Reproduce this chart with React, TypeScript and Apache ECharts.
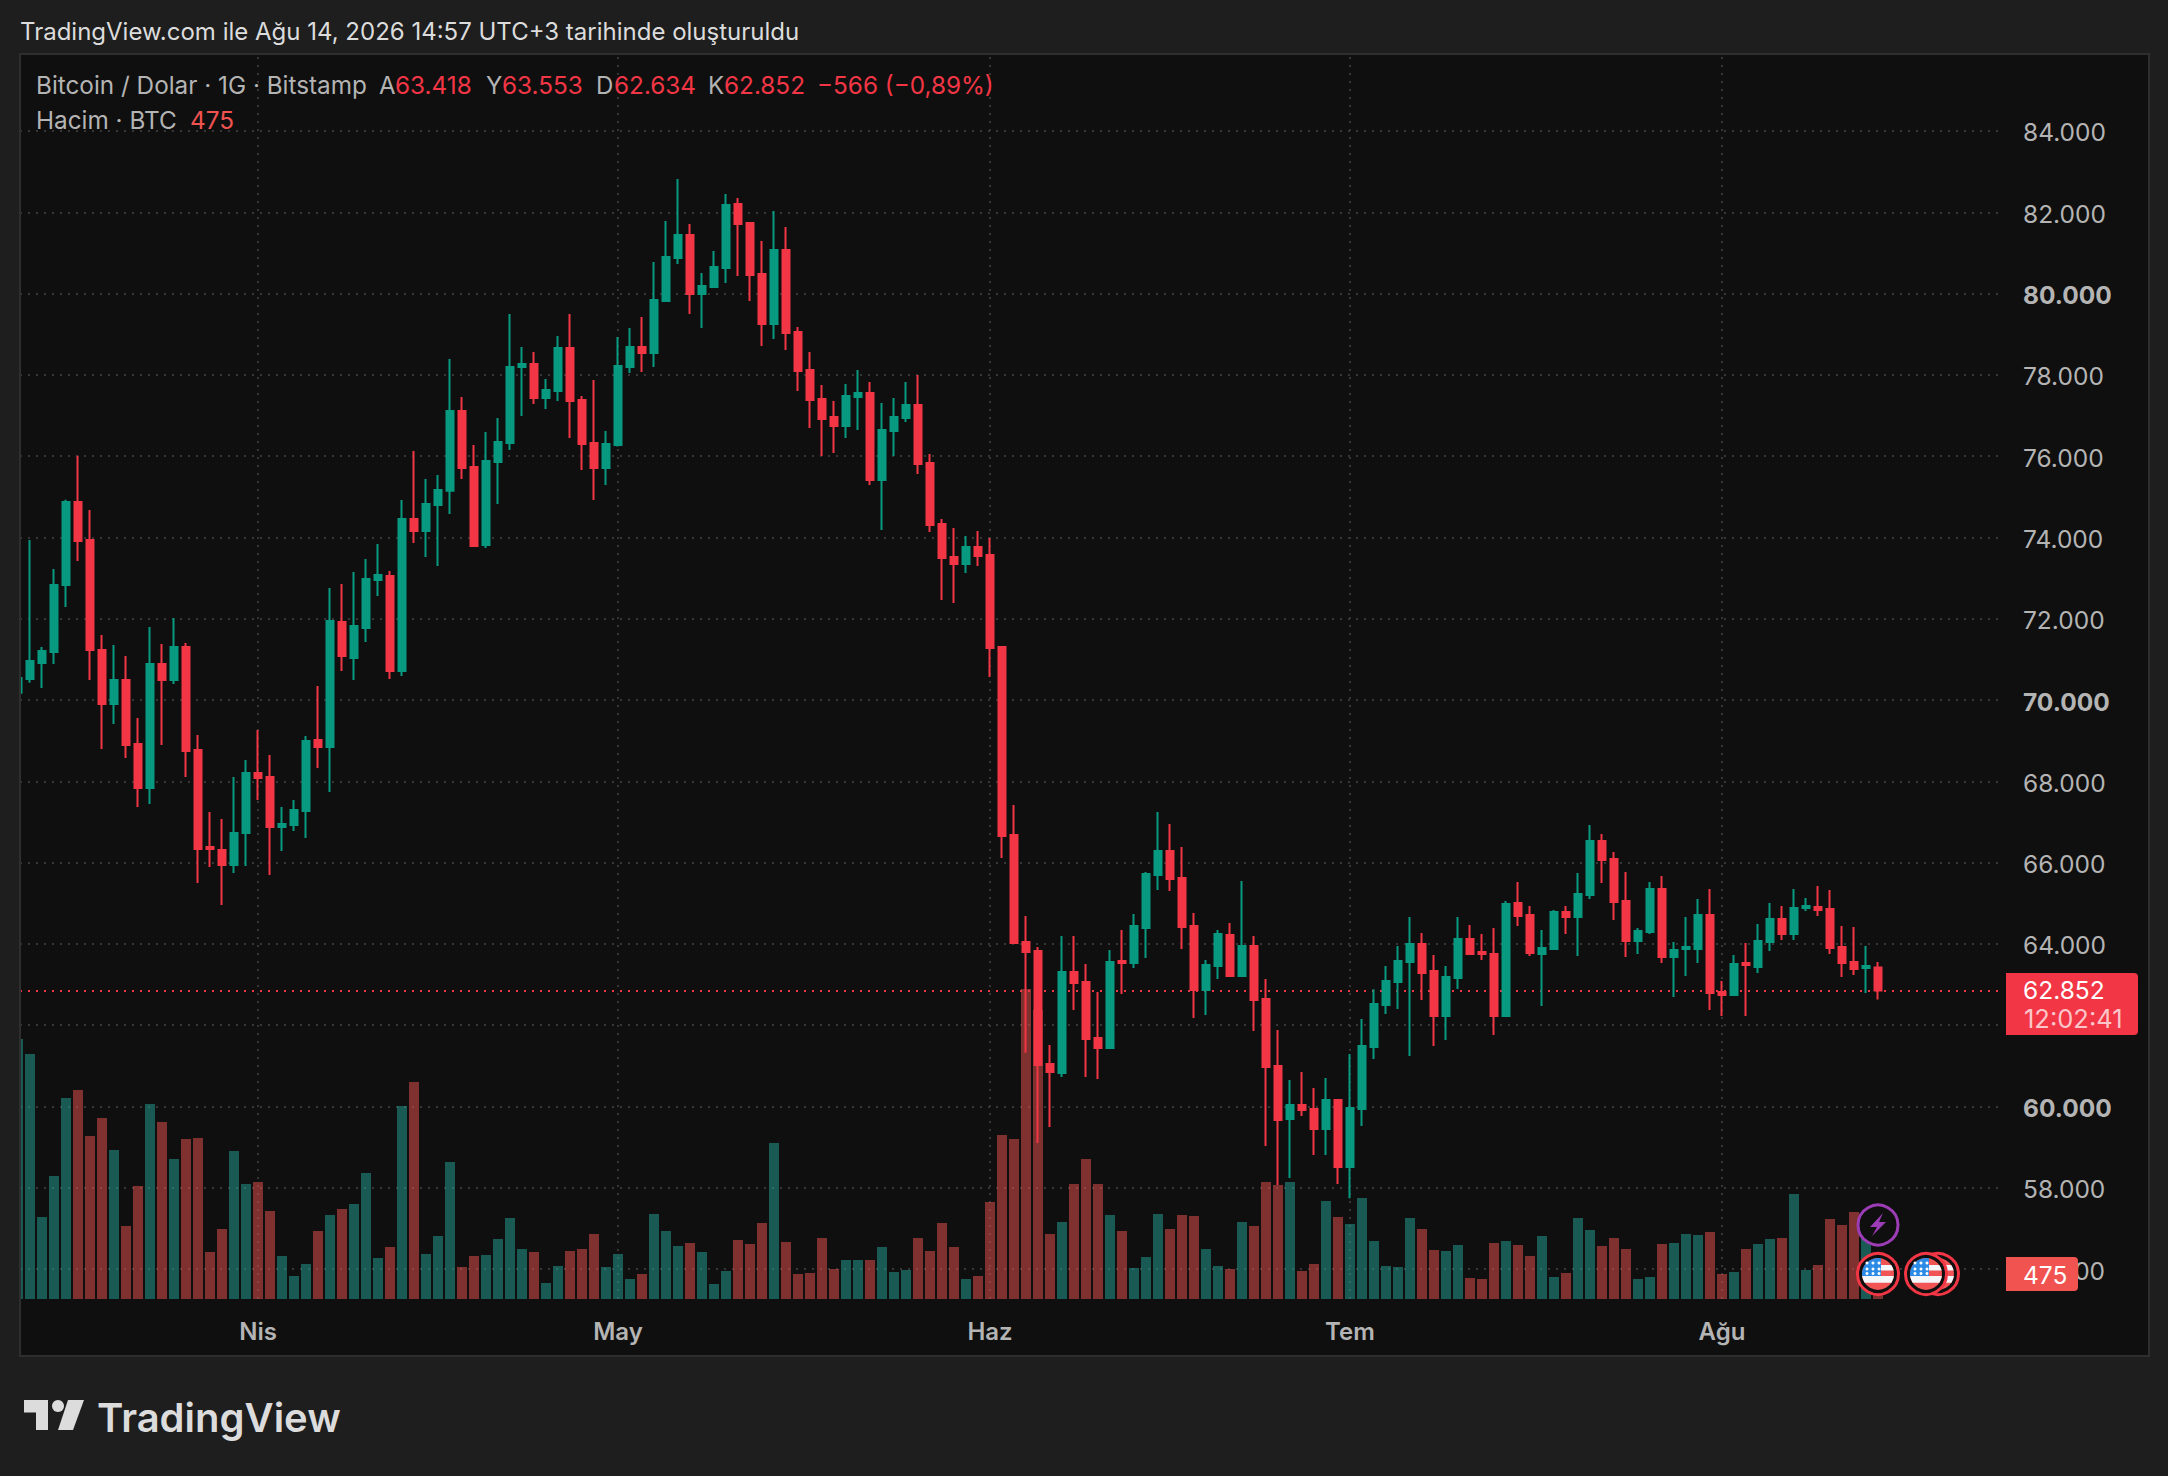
import React, { useEffect, useRef } from "react";
import * as echarts from "echarts";

const opens = [70180,70517,70910,71181,72830,74872,73937,71230,69902,70492,
68917,67835,70886,70492,71304,68770,66383,66309,65940,66727,
68204,68105,66875,66924,67269,69016,68843,71919,71033,71772,
72953,73051,70714,74453,74158,74798,75150,77110,75732,73814,
75855,76323,78193,78267,77430,77602,78660,77381,76323,75708,
76273,78193,78685,78537,79817,80875,81441,79989,80161,80629,
82203,81736,80481,79251,81071,79054,78119,77405,76962,76741,
77454,77553,75412,76618,76938,77258,75831,74330,73518,73345,
73764,73568,71304,66678,64046,63824,61043,60822,63308,63062,
61683,61437,63578,63529,64390,65694,66285,65620,64439,62865,
63455,64218,63209,63947,62643,60994,59690,60035,59936,59444,
60157,58509,59936,61462,62496,63062,63553,63996,63332,62225,
63160,64119,63799,63750,62224,65005,64709,63750,63873,64783,
64660,65201,66530,66087,65054,64070,64291,65349,63676,63873,
63873,64709,62815,62741,63528,63430,64045,64611,64242,64882,
64906,64857,63922,63553,63405,63418];

const closes = [70541,70960,71206,72830,74872,73912,71230,69902,70492,68893,
67835,70886,70492,71304,68745,66334,66334,65940,66727,68204,
68081,66875,66949,67293,68991,68843,71944,71083,71821,72977,
73076,70714,74453,74158,74823,75167,77110,75708,73789,75880,
76347,78193,78267,77430,77627,78661,77356,76298,75708,76298,
78217,78685,78537,79841,80899,81441,79989,80186,80653,82179,
81711,80456,79251,81071,79029,78094,77381,76913,76741,77479,
77553,75412,76643,76962,77258,75806,74305,73493,73345,73764,
73543,71280,66654,64021,63800,61019,60846,63308,63037,61658,
61437,63553,63529,64439,65719,66285,65596,64415,62865,63480,
64242,63209,63947,62618,60969,59665,60035,59912,59444,60157,
58509,59961,61486,62520,63086,63578,63996,63283,62225,63185,
64120,63750,63750,62224,64980,64685,63774,63897,64783,64660,
65226,66530,66063,65029,64070,64316,65349,63676,63848,63922,
64709,62790,62741,63504,63479,64070,64611,64242,64881,64931,
64832,63897,63528,63381,63454,62852];

const highs = [70700,73937,71304,73223,74930,76011,74675,71599,71353,71083,
69557,71796,71378,72018,71402,69139,67244,67072,68105,68524,
69262,68647,67367,67539,69114,70344,72756,72854,73149,73469,
73838,73174,74921,76126,75437,75536,78390,77455,76274,76594,
76938,79497,78685,78562,77898,78956,79497,77479,77873,76618,
78931,79152,79423,80776,81785,82818,81711,80506,81047,82449,
82351,81760,81293,82031,81637,79177,78562,77750,77356,77774,
78119,77824,77307,77430,77824,77996,76052,74453,74231,74035,
74158,73986,71304,67417,64686,63923,61511,64193,64193,63504,
62815,63849,64341,64734,65768,67244,66949,66383,64759,63603,
64341,64513,65547,64193,63135,61880,60650,60846,60453,60699,
60182,61289,62150,62881,63455,63947,64661,64267,63726,63455,
64661,64463,64242,64389,65054,65521,64931,64340,64832,64931,
65743,66924,66702,66259,65767,64389,65521,65669,64045,64660,
65103,65349,63085,63725,64020,64488,65005,64931,65349,65128,
65423,65325,64439,64414,63947,63553];

const lows = [70050,70427,70295,70886,72288,73420,70492,68794,69409,68573,
67367,67441,68893,70394,68105,65497,65891,64956,65743,65916,
67539,65694,66284,66777,66604,68327,67736,70714,70492,71427,
72559,70517,70590,73863,73518,73297,74577,75437,73789,73740,
74823,76151,76987,77282,77159,77356,76446,75658,74920,75289,
76240,78045,78070,78193,79817,80727,79497,79152,80136,80260,
80432,79817,78709,78882,78611,77602,76692,76003,76077,76446,
76643,75289,74182,76003,76840,75560,74133,72460,72386,73124,
73296,70566,66112,63997,61322,59099,59493,60723,62373,60723,
60674,61437,62766,63406,63652,65325,65300,63873,62176,62249,
63135,63209,63209,61855,59026,58066,58238,59764,58804,58804,
58091,57738,59518,61166,62274,62397,61240,62618,61486,61634,
62889,63750,63602,61757,62200,64439,63701,62470,63848,64242,
63701,65103,65497,64586,63676,63750,64242,63528,62692,63208,
63528,62372,62224,62741,62224,63282,63823,64094,64094,64808,
64685,63750,63184,63233,62790,62634];

const volumes = [4750,4476,1498,2247,3672,3818,2978,3307,2722,1334,
2065,3563,3234,2558,2923,2941,859,1279,2704,2101,
2138,1608,786,420,639,1242,1535,1644,1736,2302,
749,950,3526,3965,822,1151,2503,585,786,804,
1096,1480,914,859,292,603,877,914,1188,585,
822,365,457,1553,1242,968,1023,859,274,512,
1078,1005,1389,2850,1041,457,475,1114,548,713,
713,713,950,493,530,1114,877,1389,950,365,
420,1772,2996,2923,5664,5280,1188,1407,2101,2558,
2101,1535,1242,566,767,1553,1279,1535,1516,914,
603,548,1407,1334,2138,2083,2138,512,639,1790,
1498,1370,1845,1060,603,585,1480,1279,895,877,
987,384,365,1023,1060,987,786,1151,402,475,
1480,1261,968,1114,914,365,402,1005,1023,1188,
1169,1224,457,493,914,1005,1096,1114,1918,530,
621,1462,1352,1589,1535,475];

const monthIndexes = [20, 50, 81, 111, 142];
const monthNames = ["Nis", "May", "Haz", "Tem", "Ağu"];
const lastPrice = 62852;
const lastVolume = 475;
const priceMin = 54000;
const priceMax = 86000;
const priceStep = 2000;
const coveredTick = 62000;
const volumeMax = 22746;
const bandCount = 166;

const categories = Array.from({ length: bandCount }, (_, i) =>
  new Date(Date.UTC(2026, 2, 12 + i)).toISOString().slice(0, 10)
);

const GREEN = "#089981";
const RED = "#F23645";
const VOL_GREEN = "rgba(38,166,154,0.5)";
const VOL_RED = "rgba(239,83,80,0.5)";
const PANEL = "#0f0f0f";
const PAGE = "#1e1e1e";
const BORDER = "#2e2e2e";
const GRID = "#363636";
const MUTED = "#b4b4b4";
const FONT = "Inter, 'Noto Sans', sans-serif";

const fmt = (v: number) => String(v).replace(/(\d)(\d{3})$/, "$1.$2");

echarts.graphic.registerShape(
  "flagWhiteBand",
  echarts.graphic.extendPath(
    "M-15.9 2 L15.9 2 A16 16 0 0 1 13.4 8.7 L-13.4 8.7 A16 16 0 0 1 -15.9 2 Z M2 -9 L13.2 -9 A16 16 0 0 1 15.6 -3.5 L2 -3.5 Z",
    {}
  )
);
echarts.graphic.registerShape(
  "flagCanton",
  echarts.graphic.extendPath("M3 -15.7 A16 16 0 0 0 -15.9 2 L3 2 Z", {})
);
echarts.graphic.registerShape(
  "bolt",
  echarts.graphic.extendPath("M5 -12 L-8 2 L-1 2 L-6 11 L8 -3 L1 -3 Z", {})
);

function flag(cx: number, cy: number, z: number) {
  const stars: any[] = [];
  for (const sx of [-11, -5, 1]) {
    for (const sy of [-11, -5, -0.5]) {
      stars.push({ type: "circle", z, shape: { cx: sx, cy: sy, r: 1.5 }, style: { fill: "#ffffff" } });
    }
  }
  return {
    type: "group",
    x: cx,
    y: cy,
    silent: true,
    children: [
      { type: "circle", z, shape: { cx: 0, cy: 0, r: 20.5 }, style: { fill: PANEL, stroke: RED, lineWidth: 3 } },
      { type: "circle", z, shape: { cx: 0, cy: 0, r: 16 }, style: { fill: "#F05454" } },
      { type: "flagWhiteBand", z, style: { fill: "#F4F6FA" } },
      { type: "flagCanton", z, style: { fill: "#2B8BE6" } },
      ...stars,
    ],
  };
}

function label(x: number, y: number, text: string, fill: string, size = 24, weight = 400, z = 70, align = "left") {
  return {
    type: "text",
    x,
    y,
    z,
    silent: true,
    style: {
      text,
      fill,
      font: `${weight} ${size}px ${FONT}`,
      textAlign: align,
      textVerticalAlign: "middle",
    },
  };
}

const cover = (x: number, y: number, w: number, h: number, fill: string, z = 50) => ({
  type: "rect",
  z,
  silent: true,
  shape: { x, y, width: w, height: h },
  style: { fill },
});

export default function App() {
  const ref = useRef<HTMLDivElement>(null);

  useEffect(() => {
    if (!ref.current) return;
    const chart = echarts.init(ref.current, undefined, { renderer: "svg" });
    const dotted = { color: GRID, width: 2, type: [2, 6] as number[] };

    chart.setOption({
      animation: false,
      backgroundColor: PANEL,
      grid: [
        { left: 12, right: 164, top: 49.7, height: 1300.6 },
        { left: 12, right: 164, top: 54, height: 1245 },
      ],
      xAxis: [
        { type: "category", gridIndex: 0, data: categories, show: false },
        {
          type: "category",
          gridIndex: 1,
          data: categories,
          axisLine: { show: false },
          axisTick: { show: false },
          splitLine: { show: false },
          axisLabel: {
            margin: 20,
            color: MUTED,
            fontFamily: FONT,
            fontSize: 24,
            fontWeight: 600,
            interval: (i: number) => monthIndexes.includes(i),
            formatter: (_: string, i: number) => monthNames[monthIndexes.indexOf(i)] ?? "",
          },
        },
      ],
      yAxis: [
        {
          type: "value",
          gridIndex: 0,
          position: "right",
          min: priceMin,
          max: priceMax,
          interval: priceStep,
          axisLine: { show: false },
          axisTick: { show: false },
          splitLine: { show: true, showMinLine: false, showMaxLine: false, lineStyle: dotted },
          axisLabel: {
            margin: 19,
            align: "left",
            color: MUTED,
            fontFamily: FONT,
            fontSize: 24.5,
            padding: [3, 0, 0, 0],
            showMinLabel: false,
            showMaxLabel: false,
            formatter: (v: number) =>
              v === coveredTick ? "" : v % 10000 === 0 ? `{b|${fmt(v)}}` : fmt(v),
            rich: { b: { fontWeight: 700, color: MUTED, fontFamily: FONT, fontSize: 24.5 } },
          },
        },
        {
          type: "value",
          gridIndex: 1,
          show: false,
          min: 0,
          max: volumeMax,
          splitLine: { show: false },
        },
      ],
      series: [
        {
          type: "bar",
          name: "Hacim",
          xAxisIndex: 1,
          yAxisIndex: 1,
          z: 1,
          barWidth: 10,
          data: volumes.map((v, i) => ({
            value: v,
            itemStyle: { color: closes[i] >= opens[i] ? VOL_GREEN : VOL_RED },
          })),
          markLine: {
            silent: true,
            z: 0,
            symbol: "none",
            label: { show: false },
            lineStyle: dotted,
            data: monthIndexes.map((i) => ({ xAxis: i })),
          },
        },
        {
          type: "candlestick",
          name: "Bitcoin / Dolar",
          xAxisIndex: 0,
          yAxisIndex: 0,
          z: 3,
          barWidth: 8,
          itemStyle: { color: GREEN, color0: RED, borderColor: GREEN, borderColor0: RED, borderWidth: 2 },
          data: opens.map((o, i) => [o, closes[i], lows[i], highs[i]]),
          markLine: {
            silent: true,
            z: 2,
            symbol: "none",
            label: { show: false },
            lineStyle: { color: RED, width: 2, type: [2, 6] },
            data: [{ yAxis: lastPrice }],
          },
        },
      ],
      graphic: [
        cover(0, 0, 2168, 53, PAGE),
        cover(0, 1357, 2168, 119, PAGE),
        cover(0, 0, 19, 1476, PAGE),
        cover(2150, 0, 18, 1476, PAGE),
        cover(1998, 55, 8, 1245, PANEL),
        {
          type: "rect",
          z: 51,
          silent: true,
          shape: { x: 20, y: 54, width: 2129, height: 1302 },
          style: { fill: "none", stroke: BORDER, lineWidth: 2 },
        },
        label(20, 31, "TradingView.com ile Ağu 14, 2026 14:57 UTC+3 tarihinde oluşturuldu", "#dcdcdc", 24),
        label(36, 85, "Bitcoin / Dolar · 1G · Bitstamp", MUTED, 24.3),
        label(379, 85, "A", MUTED, 24),
        label(395, 85, "63.418", RED, 24.3),
        label(486, 85, "Y", MUTED, 24),
        label(502, 85, "63.553", RED, 24.3),
        label(596, 85, "D", MUTED, 24),
        label(614, 85, "62.634", RED, 24.3),
        label(708, 85, "K", MUTED, 24),
        label(724, 85, "62.852", RED, 24.3),
        label(817, 85, "−566 (−0,89%)", RED, 24.3),
        label(36, 119.5, "Hacim · BTC", MUTED, 24.3),
        label(190, 119.5, "475", "#F05350", 24.3),
        {
          type: "rect",
          z: 60,
          silent: true,
          shape: { x: 2006, y: 973, width: 132, height: 62, r: [0, 4, 4, 0] },
          style: { fill: RED },
        },
        label(2023, 990, fmt(lastPrice), "#ffffff", 24.5),
        label(2024, 1018, "12:02:41", "rgba(255,255,255,0.72)", 25.5),
        {
          type: "rect",
          z: 60,
          silent: true,
          shape: { x: 2006, y: 1257, width: 72, height: 34, r: [0, 4, 4, 0] },
          style: { fill: "#F05350" },
        },
        label(2023, 1274.5, String(lastVolume), "#ffffff", 24.5),
        flag(1938, 1274, 40),
        flag(1926, 1274, 41),
        flag(1878, 1274, 42),
        {
          type: "group",
          x: 1878,
          y: 1225,
          silent: true,
          children: [
            { type: "circle", z: 43, shape: { cx: 0, cy: 0, r: 20 }, style: { fill: PANEL, stroke: "#9C3DB5", lineWidth: 3 } },
            { type: "bolt", z: 43, style: { fill: "#9C3DB5" } },
          ],
        },
        {
          type: "polygon",
          z: 70,
          silent: true,
          shape: { points: [[24, 1400], [48, 1400], [48, 1430], [36, 1430], [36, 1412.5], [24, 1412.5]] },
          style: { fill: "#dcdcdc" },
        },
        { type: "circle", z: 70, silent: true, shape: { cx: 58, cy: 1406, r: 6 }, style: { fill: "#dcdcdc" } },
        {
          type: "polygon",
          z: 70,
          silent: true,
          shape: { points: [[68, 1400], [84, 1400], [73, 1430], [58, 1430]] },
          style: { fill: "#dcdcdc" },
        },
        label(97, 1417, "TradingView", "#dcdcdc", 40, 600),
      ],
    });

    return () => chart.dispose();
  }, []);

  return (
    <div
      ref={ref}
      style={{ position: "absolute", left: 0, top: 0, width: 2168, height: 1476 }}
    />
  );
}
